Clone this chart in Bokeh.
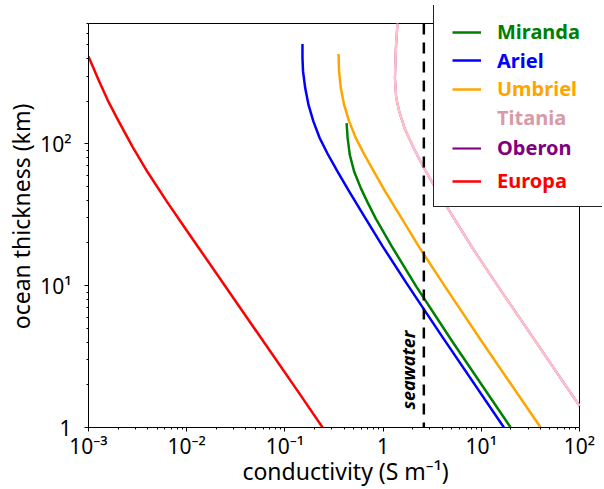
import math
from bokeh.plotting import figure
from bokeh.models import FixedTicker, Legend, LegendItem, Label, Range1d
from bokeh.embed import file_html
from bokeh.resources import INLINE

# ---------------- data ----------------
x_ticks = [1e-3, 1e-2, 1e-1, 1.0, 1e1, 1e2]
x_tick_labels = ["10\u207b\u00b3", "10\u207b\u00b2", "10\u207b\u00b9", "1", "10\u00b9", "10\u00b2"]
y_ticks = [1.0, 10.0, 100.0]
y_tick_labels = ["1", "10\u00b9", "10\u00b2"]

seawater = 2.6

miranda_sigma = [0.425, 0.435, 0.458, 0.507, 0.593, 0.693, 0.843, 1.25, 2.18, 5.01, 19.9]
miranda_h = [140, 110, 83.6, 63.8, 48.7, 38.8, 29.7, 18.5, 9.84, 4.09, 1.0]

ariel_sigma = [0.151, 0.151, 0.153, 0.161, 0.174, 0.195, 0.226, 0.272, 0.344, 0.451, 0.641, 0.986, 1.75, 3.98, 17.0]
ariel_h = [505, 402, 324, 247, 188, 144, 110, 85.1, 63.7, 46.2, 30.9, 19.0, 10.3, 4.39, 1.0]

umbriel_sigma = [0.352, 0.356, 0.371, 0.401, 0.451, 0.527, 0.641, 0.809, 1.06, 1.46, 2.33, 4.13, 10.0, 40.2]
umbriel_h = [430, 324, 247, 188, 144, 110, 84.5, 63.5, 45.7, 31.8, 18.7, 10.2, 4.09, 1.0]

titania_sigma = [1.40, 1.35, 1.32, 1.36, 1.46, 1.66, 2.07, 2.61, 3.30, 4.52, 6.67, 8.20, 14.5, 100.0]
titania_h = [705, 471, 290, 210, 169, 128, 91.8, 67.6, 50.9, 35.5, 23.0, 18.3, 10.1, 1.42]

oberon_sigma = [1.40, 1.35, 1.32, 1.36, 1.46, 1.66, 2.07, 2.61, 3.30, 4.52, 6.67, 8.20, 14.5, 100.0]
oberon_h = [705, 471, 290, 210, 169, 128, 91.8, 67.6, 50.9, 35.5, 23.0, 18.3, 10.1, 1.42]

europa_sigma = [0.00100, 0.00126, 0.00158, 0.00200, 0.00282, 0.00398, 0.00631, 0.0100, 0.0140, 0.146, 0.242]
europa_h = [413, 284, 201, 147, 94.8, 63.5, 39.0, 24.5, 17.5, 1.67, 1.0]

names = ["Miranda", "Ariel", "Umbriel", "Titania", "Oberon", "Europa"]
line_colors = ["#008000", "#0000ff", "#ffa500", "#ffc0cb", "#800080", "#ff0000"]
legend_colors = ["#008000", "#0000ff", "#ffa500", "#d99aa8", "#800080", "#ff0000"]

FONT = "Noto Sans"
X_MIN, X_MAX = 1e-3, 1e2
Y_MIN, Y_MAX = 1, 705

# ---------------- layout geometry (pixels) ----------------
W, H = 604, 489
AX_L, AX_R, AX_T, AX_B = 88, 579, 23, 427      # the axes box
FR_R, FR_T = 602, 5                             # frame extended to hold the legend box
ppd_x = (AX_R - AX_L) / (math.log10(X_MAX) - math.log10(X_MIN))
ppd_y = (AX_B - AX_T) / (math.log10(Y_MAX) - math.log10(Y_MIN))
X_END = 10 ** (math.log10(X_MAX) + (FR_R - AX_R) / ppd_x)
Y_END = 10 ** (math.log10(Y_MAX) + (AX_T - FR_T) / ppd_y)

# ---------------- figure ----------------
p = figure(width=W, height=H, x_axis_type="log", y_axis_type="log",
           x_range=Range1d(X_MIN, X_END), y_range=Range1d(Y_MIN, Y_END),
           output_backend="svg", toolbar_location=None,
           min_border_left=AX_L, min_border_right=W - FR_R,
           min_border_top=FR_T, min_border_bottom=H - AX_B)
p.grid.visible = False
p.background_fill_color = "white"
p.border_fill_color = "white"
p.outline_line_color = None

minor_x = [m * d for d in [1e-3, 1e-2, 1e-1, 1.0, 1e1] for m in range(2, 10)]
minor_y = [m * d for d in [1.0, 10.0, 100.0] for m in range(2, 10) if m * d <= Y_MAX]
p.xaxis.ticker = FixedTicker(ticks=x_ticks, minor_ticks=minor_x)
p.yaxis.ticker = FixedTicker(ticks=y_ticks, minor_ticks=minor_y)
p.xaxis.major_label_overrides = dict(zip(x_ticks, x_tick_labels))
p.yaxis.major_label_overrides = dict(zip(y_ticks, y_tick_labels))
p.xaxis.bounds = (X_MIN, X_MAX)
p.yaxis.bounds = (Y_MIN, Y_MAX)

for ax in (p.xaxis, p.yaxis):
    ax.axis_line_color = "black"
    ax.major_tick_line_color = "black"
    ax.minor_tick_line_color = "black"
    ax.major_tick_out = 4
    ax.major_tick_in = 0
    ax.minor_tick_out = 2
    ax.minor_tick_in = 0
    ax.major_label_text_font = FONT
    ax.major_label_text_font_size = "21px"
    ax.major_label_text_color = "black"
    ax.axis_label_text_font = FONT
    ax.axis_label_text_font_size = "23px"
    ax.axis_label_text_font_style = "normal"
    ax.axis_label_text_color = "black"

p.xaxis.axis_label = "conductivity (S m\u207b\u00b9)"
p.yaxis.axis_label = "ocean thickness (km)"
p.xaxis.major_label_standoff = 0
p.xaxis.axis_label_standoff = -8
p.yaxis.major_label_standoff = 13
p.yaxis.axis_label_standoff = 0

# top and right spines of the axes box (the legend box is drawn over them)
p.line([X_MIN, X_MAX], [Y_MAX, Y_MAX], line_color="black", line_width=1)
p.line([X_MAX, X_MAX], [Y_MIN, Y_MAX], line_color="black", line_width=1)

# ---------------- curves ----------------
data = [(miranda_sigma, miranda_h), (ariel_sigma, ariel_h), (umbriel_sigma, umbriel_h),
        (titania_sigma, titania_h), (oberon_sigma, oberon_h), (europa_sigma, europa_h)]
widths = [2.5, 2.5, 2.5, 2.5, 2.1, 2.5]
draw_order = [4, 3, 0, 1, 2, 5]  # Oberon beneath Titania
renderers = {}
for i in draw_order:
    xs, ys = data[i]
    renderers[i] = p.line(xs, ys, line_color=line_colors[i], line_width=widths[i],
                          line_join="round")

p.line([seawater, seawater], [Y_MAX, Y_MIN], line_color="black", line_width=2.5, line_dash="11 8")

p.add_layout(Label(x=seawater, y=2.54, x_offset=-16, text="seawater", angle=math.pi / 2,
                   text_align="center", text_baseline="middle", text_font=FONT,
                   text_font_style="bold italic", text_font_size="18px", text_color="black"))

# ---------------- legend ----------------
BOX_L, BOX_R, BOX_T, BOX_B = 433, 602, 5, 207
dummy = p.line([], [], line_alpha=0)
box = Legend(items=[LegendItem(label=" ", renderers=[dummy])],
             location=(BOX_L - AX_L, AX_B - BOX_B), padding=0, spacing=0, margin=0,
             glyph_width=BOX_R - BOX_L - 1, glyph_height=BOX_B - BOX_T,
             label_width=0, label_height=0,
             label_standoff=0, label_text_font_size="1px",
             border_line_color="#222222", border_line_width=1.5, border_line_alpha=1,
             background_fill_color="white", background_fill_alpha=1)
p.add_layout(box)

proxy = p.line([], [], line_color=legend_colors[3], line_width=3)
centers = [31.7, 60.2, 88.8, 117.5, 147.5, 180.7]
for i, name in enumerate(names):
    cy = centers[i]
    rend = proxy if i == 3 else renderers[i]
    leg = Legend(items=[LegendItem(label=name, renderers=[rend])],
                 location=(452 - AX_L, AX_B - cy - 15), padding=0, spacing=0, margin=0,
                 glyph_width=29, glyph_height=30, label_height=30, label_width=90,
                 label_standoff=16, label_text_font=FONT, label_text_font_style="bold",
                 label_text_font_size="20px", label_text_color=legend_colors[i],
                 border_line_alpha=0, background_fill_alpha=0)
    p.add_layout(leg)

open("out.html", "w").write(file_html(p, INLINE))
